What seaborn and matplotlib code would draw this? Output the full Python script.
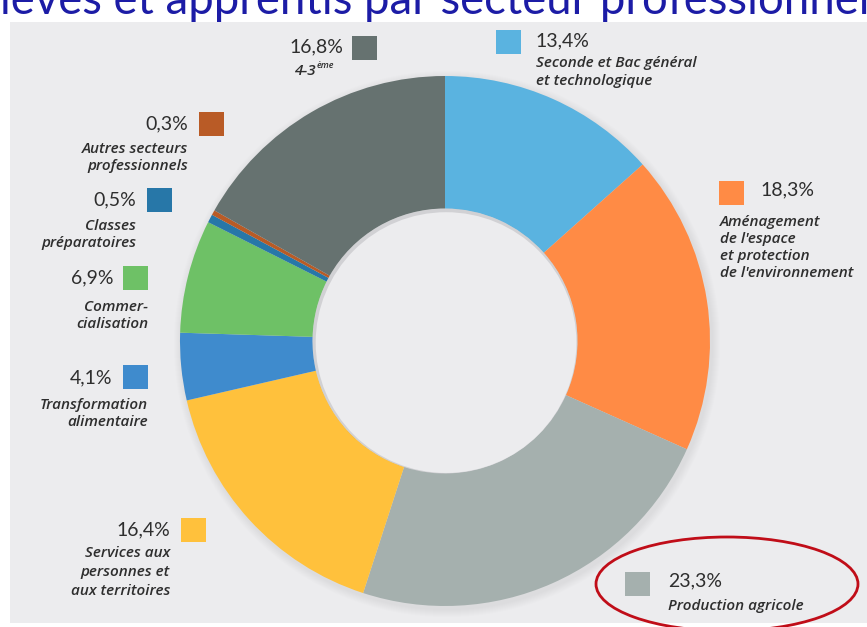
import numpy as np
import pandas as pd
import seaborn as sns
import matplotlib.pyplot as plt
from matplotlib.patches import Rectangle, Ellipse, Circle

sns.set_theme(style="white")

# data, clockwise from 12 o'clock
categories = ["Seconde et Bac général\net technologique",
              "Aménagement\nde l'espace\net protection\nde l'environnement",
              "Production agricole",
              "Services aux\npersonnes et\naux territoires",
              "Transformation\nalimentaire",
              "Commer-\ncialisation",
              "Classes\npréparatoires",
              "Autres secteurs\nprofessionnels",
              "4-3"]
values = [13.4, 18.3, 23.3, 16.4, 4.1, 6.9, 0.5, 0.3, 16.8]
colors = ["#5ab3e0", "#ff8b45", "#a5b0ae", "#ffc13c", "#3f8bcd",
          "#6ec166", "#2777a8", "#b95b26", "#667270"]

df = pd.DataFrame({"cat": categories, "val": values, "col": colors})

W, H = 867, 627
panel = "#ececee"
fig = plt.figure(figsize=(W / 100, H / 100), dpi=100)

# background axes in pixel coordinates (y downwards)
bg = fig.add_axes([0, 0, 1, 1])
bg.set_xlim(0, W)
bg.set_ylim(H, 0)
bg.axis("off")
bg.add_patch(Rectangle((10, 22), W - 10, 601, facecolor=panel, edgecolor="none"))

bg.text(-24, 14, "élèves et apprentis par secteur professionnel", color="#1c1ca6",
        fontsize=32.8, family="Lato", ha="left", va="baseline")

cx, cy, r = 445, 341, 265

# soft shadow around the donut
for k in range(8, 0, -1):
    bg.add_patch(Circle((cx + 2, cy + 3), r + k, facecolor="#9a9aa0", edgecolor="none",
                        alpha=0.025))

# donut
ax = fig.add_axes([(cx - r) / W, (H - cy - r) / H, 2 * r / W, 2 * r / H])
ax.pie(df["val"], colors=df["col"], startangle=90, counterclock=False,
       wedgeprops=dict(width=0.5, edgecolor="none"))
# hole: slight inner shade then panel colour
for k in range(5, 0, -1):
    ax.add_patch(Circle((0, 0), 0.5, facecolor="#b8b8be", edgecolor="none", alpha=0.06))
ax.add_patch(Circle((0.004, -0.006), 0.492, facecolor=panel, edgecolor="none"))
ax.set_xlim(-1, 1)
ax.set_ylim(-1, 1)
ax.set_aspect("auto")
ax.patch.set_alpha(0)

# label layout: square x, square y, pct x, pct y, side, label x, label y, line step
layout = [
    (496, 30, 535, 41, "left", 536, 63, 18),
    (719, 181, 760, 190, "left", 720, 222, 17),
    (625, 572, 668, 581, "left", 668, 606, 17),
    (181, 518, 170, 530, "right", 170, 553, 19),
    (123, 365, 112, 378, "right", 148, 405, 17),
    (123, 266, 114, 278, "right", 148, 307, 17),
    (147, 188, 136, 200, "right", 136, 226, 17),
    (199, 112, 188, 124, "right", 188, 149, 17),
    (352, 36, 343, 47, "right", 316, 71, 17),
]

txt = "#2e2e2e"
for (cat, val, col), (sx, sy, px, py, side, lx, ly, step) in zip(
        df[["cat", "val", "col"]].values, layout):
    bg.add_patch(Rectangle((sx, sy), 25, 24, facecolor=col, edgecolor="none"))
    bg.text(px, py, f"{val:.1f}".replace(".", ",") + "%", color=txt,
            fontsize=14, family="Lato", ha=side, va="center")
    for i, line in enumerate(cat.split("\n")):
        bg.text(lx, ly + i * step, line, color=txt, fontsize=11, family="Open Sans",
                style="italic", weight="semibold", ha=side, va="center")
    if cat == "4-3":
        bg.text(lx + 1, ly - 5, "ème", color=txt, fontsize=6.5, family="Open Sans",
                style="italic", weight="semibold", ha="left", va="center")

# highlight
bg.add_patch(Ellipse((727, 584), 262, 94, facecolor="none", edgecolor="#c00d18", linewidth=2))

fig.savefig("out.png", dpi=100)
